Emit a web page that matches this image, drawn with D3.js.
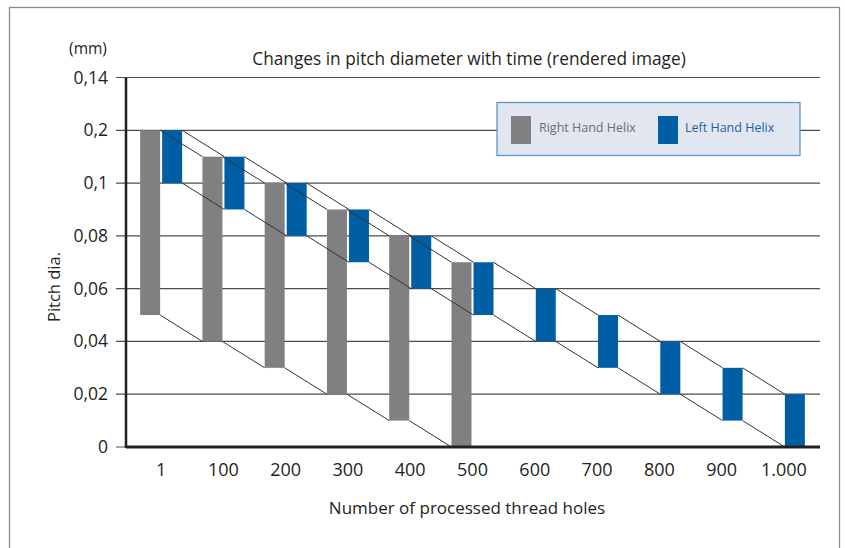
<!DOCTYPE html>
<html>
<head>
<meta charset="utf-8">
<script src="https://cdn.jsdelivr.net/npm/d3@7"></script>
<style>
  body { margin: 0; background: #fff; }
  svg { font-family: "Open Sans", "Noto Sans", sans-serif; }
</style>
</head>
<body>
<div id="chart"></div>
<script>
// data
const holes = ["1", "100", "200", "300", "400", "500", "600", "700", "800", "900", "1.000"];
const rightLow  = [0.05, 0.04, 0.03, 0.02, 0.01, 0.00];
const rightHigh = [0.12, 0.11, 0.10, 0.09, 0.08, 0.07];
const leftLow   = [0.10, 0.09, 0.08, 0.07, 0.06, 0.05, 0.04, 0.03, 0.02, 0.01, 0.00];
const leftHigh  = [0.12, 0.11, 0.10, 0.09, 0.08, 0.07, 0.06, 0.05, 0.04, 0.03, 0.02];
const yTicks = [0, 0.02, 0.04, 0.06, 0.08, 0.10, 0.12, 0.14];
const yTickLabels = ["0", "0,02", "0,04", "0,06", "0,08", "0,1", "0,2", "0,14"];

const w = 845, h = 548;
const grey = "#808083", blue = "#005ea5";

const svg = d3.select("#chart").append("svg")
    .attr("width", w)
    .attr("height", h);

// outer frame
svg.append("rect")
    .attr("x", 9.5).attr("y", 7.5)
    .attr("width", 830).attr("height", 560)
    .attr("fill", "none").attr("stroke", "#8a8a8a").attr("stroke-width", 1.3);

const x = d3.scaleBand()
    .domain(holes)
    .range([130, 815]);

const y = d3.scaleLinear()
    .domain([0, 0.14])
    .range([447, 77.5]);

const axisLeftX = 126, plotRight = 820;

// gridlines
svg.append("g")
    .selectAll("line")
    .data(yTicks)
    .join("line")
      .attr("x1", axisLeftX - 10)
      .attr("x2", plotRight)
      .attr("y1", d => y(d))
      .attr("y2", d => y(d))
      .attr("stroke", "#4d4d4d")
      .attr("stroke-width", 1.2);

// y tick labels
svg.append("g")
    .selectAll("text")
    .data(yTicks)
    .join("text")
      .attr("x", 108)
      .attr("y", d => y(d) + 6)
      .attr("text-anchor", "end")
      .attr("font-size", 17.5)
      .attr("fill", "#231f20")
      .text((d, i) => yTickLabels[i]);

// legend box (sits over the top gridline)
const lg = svg.append("g");
lg.append("rect")
    .attr("x", 497).attr("y", 102.5)
    .attr("width", 303).attr("height", 53)
    .attr("fill", "#e2e6f0").attr("stroke", "#5b97c9").attr("stroke-width", 1.3);
lg.append("rect").attr("x", 511).attr("y", 116).attr("width", 20).attr("height", 28).attr("fill", grey);
lg.append("text").attr("x", 539).attr("y", 132).attr("font-size", 12.5).attr("fill", "#6d6e71").text("Right Hand Helix");
lg.append("rect").attr("x", 658).attr("y", 116).attr("width", 20).attr("height", 28).attr("fill", blue);
lg.append("text").attr("x", 685).attr("y", 132).attr("font-size", 12.5).attr("fill", "#1d62a6").text("Left Hand Helix");

const rightData = rightLow.map((d, i) => ({cat: holes[i], lo: d, hi: rightHigh[i]}));
const leftData = leftLow.map((d, i) => ({cat: holes[i], lo: d, hi: leftHigh[i]}));
const cx = c => x(c) + x.bandwidth() / 2;

// bars
svg.append("g")
    .selectAll("rect")
    .data(rightData)
    .join("rect")
      .attr("x", d => cx(d.cat) - 21)
      .attr("width", 20)
      .attr("y", d => y(d.hi))
      .attr("height", d => y(d.lo) - y(d.hi))
      .attr("fill", grey);

svg.append("g")
    .selectAll("rect")
    .data(leftData)
    .join("rect")
      .attr("x", d => cx(d.cat) + 1)
      .attr("width", 20)
      .attr("y", d => y(d.hi))
      .attr("height", d => y(d.lo) - y(d.hi))
      .attr("fill", blue);

// connector lines: right edge of one bar to left edge of the next
function connectors(data, x0, key) {
    const segs = d3.pairs(data);
    svg.append("g")
        .selectAll("line")
        .data(segs)
        .join("line")
          .attr("x1", d => cx(d[0].cat) + x0 + 20)
          .attr("y1", d => y(d[0][key]))
          .attr("x2", d => cx(d[1].cat) + x0)
          .attr("y2", d => y(d[1][key]))
          .attr("stroke", "#333")
          .attr("stroke-width", 1);
}
connectors(rightData, -21, "hi");
connectors(rightData, -21, "lo");
connectors(leftData, 1, "hi");
connectors(leftData, 1, "lo");

// axis lines
svg.append("line")
    .attr("x1", axisLeftX).attr("x2", axisLeftX)
    .attr("y1", y(0.14)).attr("y2", y(0) + 1)
    .attr("stroke", "#231f20").attr("stroke-width", 2.5);
svg.append("line")
    .attr("x1", axisLeftX).attr("x2", plotRight)
    .attr("y1", y(0)).attr("y2", y(0))
    .attr("stroke", "#231f20").attr("stroke-width", 3);

// x axis labels
const xAxis = d3.axisBottom(x).tickSize(0).tickPadding(0);
const gx = svg.append("g")
    .attr("transform", `translate(0, ${y(0)})`)
    .call(xAxis);
gx.select(".domain").remove();
gx.selectAll("text")
    .attr("y", 29)
    .attr("dy", 0)
    .attr("font-size", 18)
    .attr("font-family", "Open Sans, Noto Sans, sans-serif")
    .attr("fill", "#231f20");

// titles
svg.append("text")
    .attr("x", 469).attr("y", 65)
    .attr("text-anchor", "middle")
    .attr("font-size", 17.3)
    .attr("fill", "#231f20")
    .text("Changes in pitch diameter with time (rendered image)");

svg.append("text")
    .attr("x", 88).attr("y", 54)
    .attr("text-anchor", "middle")
    .attr("font-size", 15.5)
    .attr("fill", "#231f20")
    .text("(mm)");

svg.append("text")
    .attr("transform", "translate(60, 287) rotate(-90)")
    .attr("text-anchor", "middle")
    .attr("font-size", 16.5)
    .attr("fill", "#231f20")
    .text("Pitch dia.");

svg.append("text")
    .attr("x", 467).attr("y", 514)
    .attr("text-anchor", "middle")
    .attr("font-size", 17)
    .attr("fill", "#231f20")
    .text("Number of processed thread holes");
</script>
</body>
</html>
